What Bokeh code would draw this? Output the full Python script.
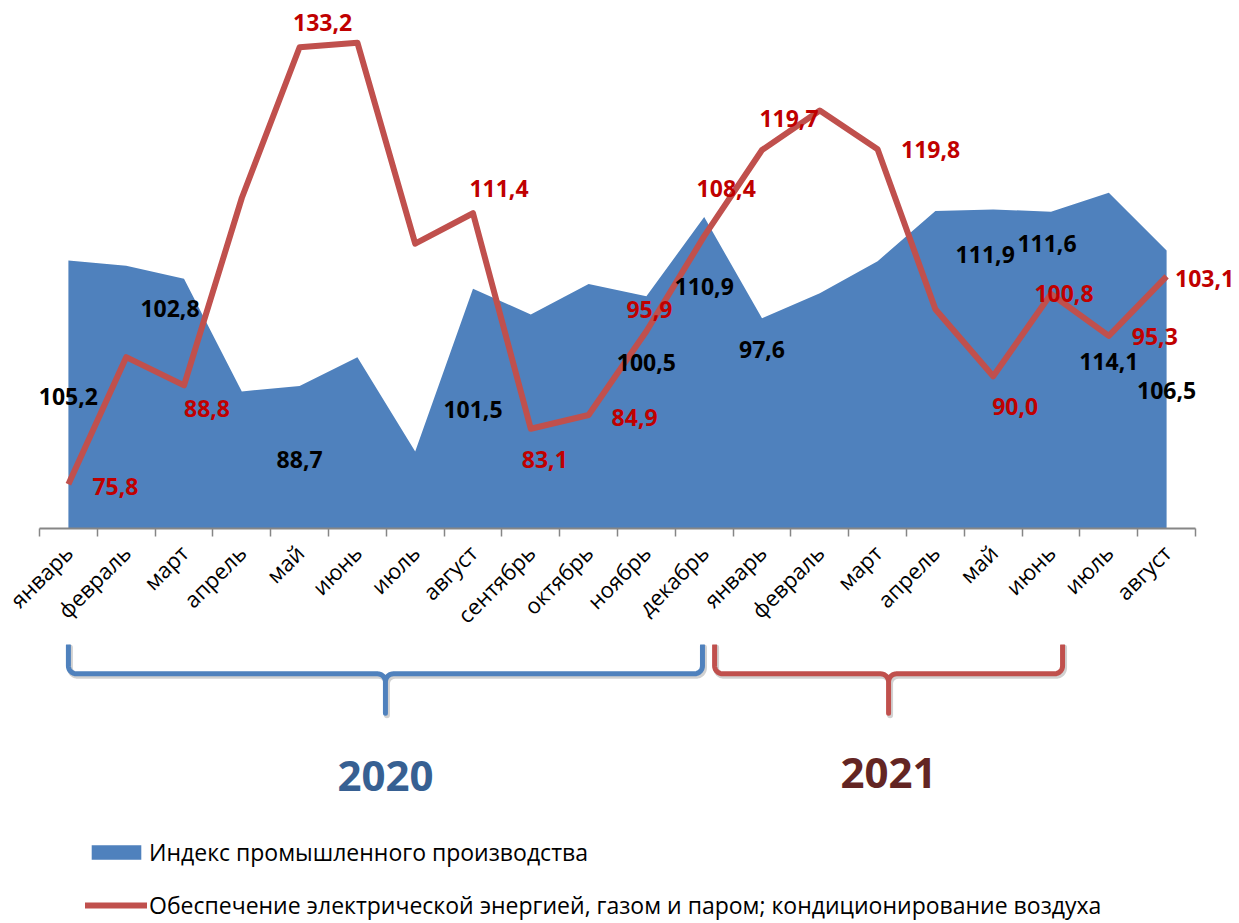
import math
from bokeh.plotting import figure
from bokeh.models import Range1d, FixedTicker, Legend, LegendItem, ColumnDataSource
from bokeh.layouts import column
from bokeh.embed import file_html
from bokeh.resources import INLINE
from bokeh.core.properties import value

# ---------------- data ----------------
months = ["январь", "февраль", "март", "апрель", "май", "июнь", "июль", "август",
          "сентябрь", "октябрь", "ноябрь", "декабрь",
          "январь", "февраль", "март", "апрель", "май", "июнь", "июль", "август"]
ipp = [105.2, 104.5, 102.8, 88.0, 88.7, 92.5, 80.1, 101.5, 98.1, 102.1, 100.5, 110.9,
       97.6, 100.9, 105.1, 111.7, 111.9, 111.6, 114.1, 106.5]
energy = [75.8, 92.5, 88.8, 113.4, 133.2, 133.8, 107.4, 111.4, 83.1, 84.9, 95.9, 108.4,
          119.7, 124.9, 119.8, 98.8, 90.0, 100.8, 95.3, 103.1]
ipp_label_idx = [0, 2, 4, 7, 10, 11, 12, 16, 17, 18, 19]
energy_label_idx = [0, 2, 4, 7, 8, 9, 10, 11, 12, 14, 16, 17, 18, 19]
years = ["2020", "2021"]
year_spans = [(0.0, 10.97), (11.18, 17.2)]
series_names = ["Индекс промышленного производства",
                "Обеспечение электрической энергией, газом и паром; кондиционирование воздуха"]

# label placement (pixel offsets from the data point, dy downwards)
ipp_label_off = [(0, 136), (-14, 30), (0, 73), (0, 121), (0, 66), (0, 69), (0, 31),
                 (-8, 45), (-4, 32), (0, 169), (0, 140)]
energy_label_off = [(47, 2), (23, 23), (23, -25), (26, -25), (14, 31), (46, 2), (3, -22),
                    (22, -48), (27, -32), (53, 0), (22, 30), (13, 0), (46, 1), (38, 2)]

BLUE = "#4F81BD"
RED = "#C0504D"
FONT = "Open Sans"

PX_X = 57.8
FRAME_W = 1200
LEFT = 39
PX_Y = 7.615
FRAME_H = 528
BOTTOM = 116

xs = list(range(len(months)))
x_range = Range1d(-0.5, -0.5 + FRAME_W / PX_X)

# ---------------- main chart ----------------
p = figure(frame_width=FRAME_W, frame_height=FRAME_H, x_range=x_range,
           y_range=Range1d(70, 70 + FRAME_H / PX_Y),
           min_border_left=LEFT, min_border_right=0, min_border_top=0,
           min_border_bottom=BOTTOM, output_backend="svg", toolbar_location=None,
           y_axis_location=None)
p.grid.visible = False
p.outline_line_color = None
p.background_fill_color = "white"

p.varea(x=xs, y1=70, y2=ipp, fill_color=BLUE)
p.line(xs, energy, line_color=RED, line_width=6, line_join="round")

ax = p.xaxis[0]
ax.ticker = FixedTicker(ticks=xs, minor_ticks=[i - 0.5 for i in range(len(months) + 1)])
ax.major_label_overrides = {i: m for i, m in enumerate(months)}
ax.major_label_orientation = math.pi / 4
ax.major_tick_out = 0
ax.major_tick_in = 0
ax.minor_tick_out = 8
ax.minor_tick_in = 0
ax.minor_tick_line_color = "#868686"
ax.minor_tick_line_width = 1.5
ax.axis_line_color = "#868686"
ax.axis_line_width = 2
ax.bounds = (-0.5, len(months) - 0.5)
ax.major_label_standoff = 12
ax.major_label_text_font = FONT
ax.major_label_text_font_size = "22px"
ax.major_label_text_color = "black"


def fmt(v):
    return f"{v:.1f}".replace(".", ",")


ipp_src = ColumnDataSource(dict(
    x=[xs[i] for i in ipp_label_idx], y=[ipp[i] for i in ipp_label_idx],
    text=[fmt(ipp[i]) for i in ipp_label_idx],
    dx=[o[0] for o in ipp_label_off], dy=[o[1] for o in ipp_label_off]))
en_src = ColumnDataSource(dict(
    x=[xs[i] for i in energy_label_idx], y=[energy[i] for i in energy_label_idx],
    text=[fmt(energy[i]) for i in energy_label_idx],
    dx=[o[0] for o in energy_label_off], dy=[o[1] for o in energy_label_off]))

p.text(x="x", y="y", text="text", x_offset="dx", y_offset="dy", source=ipp_src,
       text_font=value(FONT), text_font_style="bold", text_font_size="23px",
       text_color="black", text_align="center", text_baseline="middle")
p.text(x="x", y="y", text="text", x_offset="dx", y_offset="dy", source=en_src,
       text_font=value(FONT), text_font_style="bold", text_font_size="23px",
       text_color="#C00000", text_align="center", text_baseline="middle")

# ---------------- braces, years, legend ----------------
T = FRAME_H + BOTTOM
H2 = 923 - T
p2 = figure(frame_width=FRAME_W, frame_height=H2, x_range=x_range,
            y_range=Range1d(H2, 0),
            min_border_left=LEFT, min_border_right=0, min_border_top=0,
            min_border_bottom=0, output_backend="svg", toolbar_location=None,
            x_axis_location=None, y_axis_location=None)
p2.grid.visible = False
p2.outline_line_color = None


def brace(x0, x1, ytop, ymid, ytip, r=8.0):
    rx = r / PX_X
    xc = (x0 + x1) / 2
    bx, by = [], []

    def arc(cx, cy, t0, t1, n=10):
        for k in range(n + 1):
            t = t0 + (t1 - t0) * k / n
            bx.append(cx + rx * math.cos(t))
            by.append(cy + r * math.sin(t))

    bx.append(x0); by.append(ytop)
    arc(x0 + rx, ymid - r, math.pi, math.pi / 2)
    arc(xc - rx, ymid + r, -math.pi / 2, 0)
    bx.append(xc); by.append(ytip)
    arc(xc + rx, ymid + r, math.pi, 1.5 * math.pi)
    arc(x1 - rx, ymid - r, math.pi / 2, 0)
    bx.append(x1); by.append(ytop)
    return bx, by


brace_colors = [BLUE, RED]
year_colors = ["#376092", "#632523"]
year_y = [775 - T, 772.5 - T]
for (a, b), c in zip(year_spans, brace_colors):
    bx, by = brace(a, b, max(636.7 - T, 1), 673.3 - T, 712.7 - T)
    p2.line([v + 1.5 / PX_X for v in bx], [v + 2 for v in by], line_color="black",
            line_alpha=0.18, line_width=6, line_cap="round", line_join="round")
    p2.line(bx, by, line_color=c, line_width=5, line_cap="round", line_join="round")

p2.text(x=[(a + b) / 2 for a, b in year_spans], y=year_y, text=years,
        text_color=year_colors, text_font=value(FONT), text_font_style="bold",
        text_font_size="42px", text_align="center", text_baseline="middle")

# legend proxies (kept outside the visible x range)
r1 = p2.varea(x=[-30, -29], y1=[0, 0], y2=[1, 1], fill_color=BLUE)
r2 = p2.line(x=[-30, -29], y=[0, 1], line_color=RED, line_width=6, line_cap="round")
legend = Legend(items=[LegendItem(label=series_names[0], renderers=[r1]),
                       LegendItem(label=series_names[1], renderers=[r2])],
                location=(46, 2), orientation="vertical", glyph_width=62,
                glyph_height=18, label_height=26, spacing=21, padding=0, margin=0,
                border_line_color=None, background_fill_alpha=0, label_standoff=2,
                label_text_font=FONT, label_text_font_size="23px",
                label_text_color="black")
p2.add_layout(legend)

layout = column(p, p2)
open("out.html", "w").write(file_html(layout, INLINE))
